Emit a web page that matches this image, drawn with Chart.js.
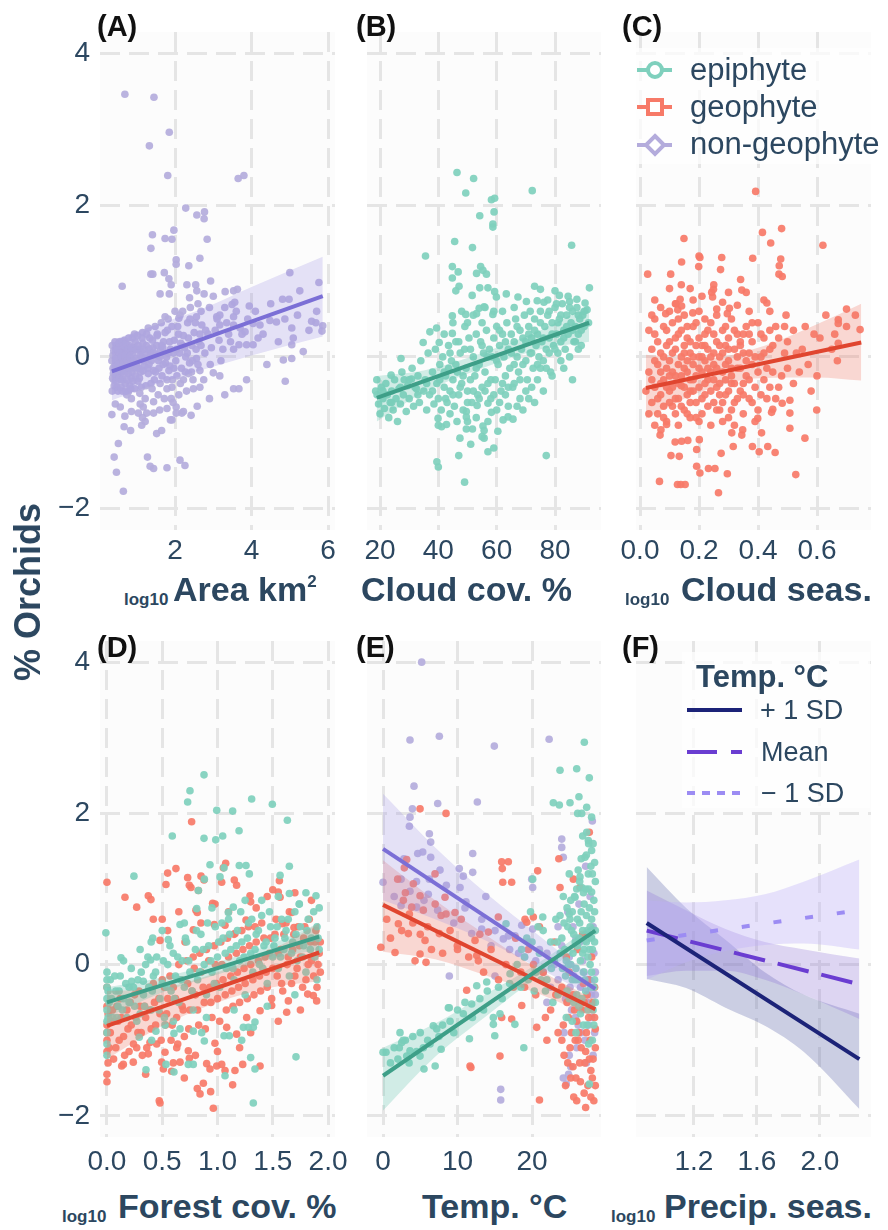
<!DOCTYPE html>
<html>
<head>
<meta charset="utf-8">
<title>% Orchids</title>
<script src="https://cdn.jsdelivr.net/npm/chart.js@4.4.0/dist/chart.umd.min.js"></script>
<style>
  html, body { margin: 0; padding: 0; background: #ffffff; }
  #fig { position: relative; width: 888px; height: 1230px; overflow: hidden;
         font-family: 'Liberation Sans', Arial, Helvetica, sans-serif; color: #2c4760; }
  #plots canvas { position: absolute; }
  .lbl { position: absolute; font-weight: bold; font-size: 29px; line-height: 1; color: #111111; white-space: nowrap; }
  .ttl { position: absolute; font-weight: bold; font-size: 34px; line-height: 1; white-space: nowrap; }
  .ttl sup { font-size: 17px; line-height: 0; vertical-align: 14px; }
  .sub { position: absolute; font-weight: bold; font-size: 17px; line-height: 1; white-space: nowrap; }
  .ylab { position: absolute; left: 28px; top: 592px; font-weight: bold; font-size: 36px; line-height: 1;
          white-space: nowrap; transform: translate(-50%, -50%) rotate(-90deg); }
  .leg { position: absolute; background: rgba(255,255,255,0.72); }
  .legtxt { position: absolute; font-size: 31px; line-height: 1; white-space: nowrap; }
  .legF { position: absolute; font-size: 27px; line-height: 1; white-space: nowrap; }
</style>
</head>
<body>
<div id="fig">
  <div id="plots"></div>

  <div class="ylab">% Orchids</div>

  <div class="lbl" style="left:97px;top:12px">(A)</div>
  <div class="lbl" style="left:356px;top:12px">(B)</div>
  <div class="lbl" style="left:622px;top:12px">(C)</div>
  <div class="lbl" style="left:97px;top:633px">(D)</div>
  <div class="lbl" style="left:356px;top:633px">(E)</div>
  <div class="lbl" style="left:622px;top:633px">(F)</div>

  <div class="sub" style="left:124px;top:591px">log10</div>
  <div class="ttl" style="left:173px;top:572px">Area km<sup>2</sup></div>
  <div class="ttl" style="left:361px;top:572px">Cloud cov. %</div>
  <div class="sub" style="left:625px;top:591px">log10</div>
  <div class="ttl" style="left:681px;top:572px">Cloud seas.</div>

  <div class="sub" style="left:62px;top:1208px">log10</div>
  <div class="ttl" style="left:118px;top:1189px">Forest cov. %</div>
  <div class="ttl" style="left:422px;top:1189px">Temp. °C</div>
  <div class="sub" style="left:611px;top:1208px">log10</div>
  <div class="ttl" style="left:664px;top:1189px">Precip. seas.</div>

  <!-- growth-form legend -->
  <div class="leg" style="left:630px;top:48px;width:257px;height:116px"></div>
  <svg style="position:absolute;left:630px;top:48px" width="60" height="116">
    <line x1="7" y1="22" x2="42" y2="22" stroke="#7fd0bd" stroke-width="4"/>
    <circle cx="25" cy="22" r="7" fill="#ffffff" stroke="#7fd0bd" stroke-width="4"/>
    <line x1="7" y1="59" x2="42" y2="59" stroke="#f77a68" stroke-width="4"/>
    <rect x="18" y="52" width="14" height="14" fill="#ffffff" stroke="#f77a68" stroke-width="4"/>
    <line x1="7" y1="97" x2="42" y2="97" stroke="#b4acdc" stroke-width="4"/>
    <polygon points="25,88 34,97 25,106 16,97" fill="#ffffff" stroke="#b4acdc" stroke-width="4"/>
  </svg>
  <div class="legtxt" style="left:690px;top:54px">epiphyte</div>
  <div class="legtxt" style="left:690px;top:91px">geophyte</div>
  <div class="legtxt" style="left:690px;top:128px">non-geophyte</div>

  <!-- temperature legend -->
  <div class="leg" style="left:682px;top:652px;width:188px;height:156px"></div>
  <div class="ttl" style="left:696px;top:661px;font-size:31px">Temp. °C</div>
  <svg style="position:absolute;left:680px;top:690px" width="70" height="120">
    <line x1="7" y1="20" x2="62" y2="20" stroke="#1c2378" stroke-width="4"/>
    <line x1="7" y1="62" x2="62" y2="62" stroke="#6a3dd1" stroke-width="4" stroke-dasharray="30 14"/>
    <line x1="7" y1="103" x2="62" y2="103" stroke="#9c8cf3" stroke-width="4" stroke-dasharray="8 7"/>
  </svg>
  <div class="legF" style="left:760px;top:697px">+ 1 SD</div>
  <div class="legF" style="left:761px;top:739px">Mean</div>
  <div class="legF" style="left:761px;top:780px">− 1 SD</div>
</div>

<script>
// ---------- axis ticks ----------
const orchidTicks = [-2, 0, 2, 4];
const orchidTickLabels = ['−2', '0', '2', '4'];
const areaTicks = [2, 4, 6];
const areaTickLabels = ['2', '4', '6'];
const cloudCovTicks = [20, 40, 60, 80];
const cloudCovTickLabels = ['20', '40', '60', '80'];
const cloudSeasTicks = [0, 0.2, 0.4, 0.6];
const cloudSeasTickLabels = ['0.0', '0.2', '0.4', '0.6'];
const forestTicks = [0, 0.5, 1, 1.5, 2];
const forestTickLabels = ['0.0', '0.5', '1.0', '1.5', '2.0'];
const tempTicks = [0, 10, 20];
const tempTickLabels = ['0', '10', '20'];
const precipTicks = [1.2, 1.6, 2.0];
const precipTickLabels = ['1.2', '1.6', '2.0'];

// ---------- (A) area, non-geophytes ----------
const areaNonGeo = [
  [0.69,3.46],[1.45,3.42],[1.85,2.96],[1.33,2.78],[1.81,2.39],[3.65,2.35],[3.8,2.39],[2.28,1.96],[2.57,1.87],[2.77,1.91],
  [2.76,1.82],[1.41,1.61],[1.37,1.43],[1.74,1.56],[1.92,1.55],[1.97,1.67],[2.84,1.55],[2.65,1.3],[2.03,1.28],[2.03,1.22],
  [2.36,1.2],[2.93,1.0],[1.37,1.09],[1.42,1.09],[1.72,1.11],[1.84,1.03],[0.62,0.93],[1.9,0.95],[2.31,0.95],[2.54,0.95],
  [1.61,0.83],[1.85,0.83],[2.38,0.78],[2.57,0.87],[2.76,0.83],[3.31,0.86],[3.53,0.87],[3.63,0.89],[5.0,1.11],[5.76,0.98],
  [4.81,0.76],[4.98,0.76],[5.26,0.87],[3.94,0.67],[3.49,0.69],[3.56,0.72],[1.74,0.53],[2.13,0.55],[2.1,0.51],[2.56,0.53],
  [2.68,0.6],[3.17,0.55],[3.53,0.53],[3.09,0.53],[3.17,0.42],[3.53,0.42],[3.7,0.38],[3.83,0.33],[4.04,0.44],[4.22,0.42],
  [4.48,0.48],[4.65,0.46],[4.87,0.5],[5.05,0.38],[5.09,0.25],[5.57,0.47],[5.68,0.45],[5.86,0.41],[5.84,0.34],[5.05,0.16],
  [5.35,0.07],[4.83,-0.04],[5.05,-0.02],[4.88,-0.32],[3.87,-0.3],[3.53,-0.42],[3.67,-0.42],[4.17,0.25],[4.04,0.16],[3.67,0.16],
  [3.87,0.16],[3.53,0.1],[3.0,-0.21],[3.17,-0.25],[2.65,-0.18],[2.43,-0.2],[2.48,-0.42],[2.65,-0.4],[2.22,-0.3],[2.35,-0.22],
  [1.79,-0.42],[1.92,-0.4],[1.44,-0.59],[1.79,-0.68],[2.03,-0.66],[2.18,-0.74],[2.22,-0.72],[2.42,-0.77],[2.03,-0.74],[1.92,-0.83],
  [1.04,-0.74],[1.26,-0.74],[1.44,-0.74],[1.17,-0.66],[1.09,-0.62],[0.69,-0.78],[0.86,-0.72],[0.35,-0.76],[0.44,-0.62],[0.57,-0.66],
  [0.86,-0.55],[0.78,-0.46],[0.67,-0.92],[0.84,-0.97],[1.13,-0.9],[1.22,-0.85],[1.52,-1.01],[1.65,-0.97],[1.88,-0.83],[0.52,-1.14],
  [0.41,-1.32],[0.47,-1.52],[1.28,-1.32],[1.35,-1.44],[1.44,-1.47],[1.79,-1.46],[2.13,-1.36],[2.26,-1.43],[0.65,-1.77],
  [0.38,0.02],[0.42,-0.12],[0.45,0.1],[0.5,-0.25],[0.52,0.05],[0.55,-0.08],[0.58,-0.3],[0.6,0.12],[0.63,-0.18],[0.66,0.0],
  [0.7,-0.35],[0.72,0.08],[0.75,-0.12],[0.78,-0.22],[0.8,0.15],[0.83,-0.05],[0.86,-0.28],[0.9,0.05],[0.93,-0.15],[0.96,0.2],
  [1.0,-0.1],[1.03,-0.32],[1.06,0.1],[1.1,-0.2],[1.13,0.0],[1.16,0.18],[1.2,-0.12],[1.24,-0.38],[1.27,0.05],[1.3,-0.22],
  [1.34,0.25],[1.38,-0.05],[1.42,0.12],[1.46,-0.3],[1.5,0.02],[1.54,0.3],[1.58,-0.15],[1.62,0.08],[1.66,-0.25],[1.7,0.2],
  [1.75,-0.08],[1.8,0.35],[1.84,-0.18],[1.88,0.1],[1.93,-0.3],[1.98,0.22],[2.02,-0.05],[2.07,0.4],[2.12,0.05],[2.17,-0.15],
  [2.22,0.28],[2.28,0.0],[2.33,0.45],[2.38,-0.08],[2.44,0.15],[2.5,0.32],[2.56,-0.02],[2.62,0.2],[2.7,0.42],[2.78,0.05],
  [2.86,0.3],[2.95,0.12],[3.05,0.35],[3.15,0.22],[3.25,0.1],[3.4,0.3],[0.4,-0.3],[0.48,-0.4],[0.55,0.2],[0.62,-0.45],
  [0.68,0.22],[0.74,-0.5],[0.82,-0.38],[0.88,0.25],[0.95,-0.42],[1.02,0.28],[1.08,-0.48],[1.15,0.32],[1.22,-0.55],[1.3,0.38],
  [1.4,-0.42],[1.48,0.4],[1.56,-0.5],[1.64,0.45],[1.72,-0.55],[1.82,0.5],[1.9,-0.55],[2.0,0.6],[2.1,-0.5],[2.2,0.6],
  [2.3,-0.45],[2.4,0.65],[2.6,0.7],[2.75,-0.3],[2.9,0.65],[3.0,0.8],[3.3,0.65],[0.36,-0.45],[0.39,-0.22],[0.44,-0.05],
  [0.47,0.15],[0.53,-0.15],[0.57,-0.02],[0.61,-0.2],[0.64,0.08],[0.67,-0.1],[0.71,-0.02],[0.77,0.02],[0.79,-0.15],[0.85,0.08],
  [0.89,-0.1],[0.92,0.12],[0.98,-0.02],[1.05,-0.15],[1.11,0.08],[1.18,-0.05],[1.25,0.15],[1.32,-0.1],[1.36,0.05],[1.44,-0.18],
  [1.52,0.15],[1.6,0.0],[1.68,0.12],[1.78,0.0],[1.86,0.2],[1.96,0.05],[2.05,-0.25],[2.15,0.18],[2.25,0.12],[2.35,0.25],
  [2.45,-0.05],[2.55,0.1],[2.65,0.3],
  [0.35,-0.05],[0.36,0.15],[0.37,-0.28],[0.38,-0.15],[0.4,0.08],[0.41,-0.38],[0.43,0.2],[0.44,-0.22],[0.46,-0.02],[0.47,-0.32],
  [0.49,0.1],[0.5,-0.1],[0.51,-0.45],[0.53,0.18],[0.54,-0.28],[0.56,0.05],[0.57,-0.18],[0.59,-0.4],[0.6,0.0],[0.62,0.2],
  [0.63,-0.3],[0.65,-0.08],[0.66,0.15],[0.68,-0.22],[0.69,0.02],[0.71,-0.45],[0.72,0.18],[0.74,-0.05],[0.76,-0.3],[0.77,0.1],
  [0.79,0.25],[0.81,-0.15],[0.82,0.0],[0.84,-0.42],[0.86,0.12],[0.87,-0.2],[0.9,-0.32],[0.92,-0.05],[0.94,0.3],[0.97,-0.25],
  [0.99,0.1],[1.01,-0.15],[1.04,0.15],[1.07,-0.28],[1.09,0.02],[1.12,-0.4],[1.14,0.25],[1.17,-0.18],[1.19,0.1],[1.23,-0.02],
  [1.26,0.3],[1.29,-0.15],[1.33,0.1],[1.37,-0.35],[1.41,0.22],[1.45,0.05],[1.49,-0.2],[1.53,0.28],[1.57,-0.05],[1.61,-0.35],
  [1.65,0.15],[1.69,-0.1],[1.74,0.32],[1.79,-0.3],[1.83,0.05],[1.87,-0.12],[1.92,0.4],[1.97,-0.15],[2.04,0.1],[2.09,0.3],
  [2.14,-0.35],[2.2,0.15],[2.27,-0.2],[2.32,0.05],[2.39,0.5],[2.47,-0.3],[2.53,0.45],[2.6,-0.1],[2.68,0.15],[2.8,0.35],
  [2.92,-0.1],[3.1,0.5],[3.2,-0.05],[3.35,0.45],[3.45,0.2],[3.6,0.6],[3.75,0.3],[3.9,0.5],[4.1,0.6],[4.3,0.3],
  [4.5,0.7],[4.7,0.2],[5.2,0.55],[5.5,0.35],[5.7,0.6],[4.4,-0.1],[3.3,-0.5],[2.9,-0.55],[2.58,-0.65],[1.95,-0.6],
  [1.6,-0.7],[1.15,-0.8]
];
const areaFitX = [0.35, 5.86];
const areaFitY = [-0.19, 0.80];
const areaBandX = [0.35, 1.5, 2.65, 4.0, 5.86];
const areaBandHi = [0.22, 0.42, 0.62, 0.92, 1.32];
const areaBandLo = [-0.57, -0.36, -0.18, 0.02, 0.27];

// ---------- (B) cloud cover, epiphytes ----------
const cloudCovEpi = [
  [46.4,2.43],[52.1,2.35],[49.4,2.16],[72.2,2.19],[58.2,2.07],[59.3,2.09],[59.1,1.91],[54.2,1.86],[58.7,1.75],[58.7,1.71],
  [45.6,1.52],[51.7,1.44],[35.6,1.33],[85.7,1.47],[44.8,1.19],[46.8,1.12],[44.8,1.04],[47.1,0.93],[46.0,0.87],[54.5,1.19],
  [55.3,1.14],[53.1,1.1],[56.5,1.09],[54.2,0.91],[57.0,0.91],[59.3,0.86],[51.6,0.81],[54.0,0.64],[53.1,0.57],[55.7,0.66],
  [58.7,0.56],[59.9,0.79],[63.3,0.83],[67.3,0.79],[70.2,0.73],[73.0,0.93],[75.0,0.89],[73.9,0.74],[76.2,0.72],[80.0,0.87],
  [81.5,0.81],[85.0,0.73],[87.5,0.76],[90.3,0.71],[91.8,0.91],[49.4,0.56],[44.8,0.54],[49.1,0.4],[44.8,0.31],[37.1,0.33],
  [39.4,0.38],[34.8,0.19],[40.3,0.19],[27.2,-0.02],[18.9,-0.3],[23.8,-0.24],[28.3,-0.3],[30.8,-0.29],[32.5,-0.42],[39.9,-0.81],
  [42.8,-0.89],[41.1,-0.92],[46.4,-0.85],[49.6,-0.95],[51.7,-0.95],[55.3,-0.91],[55.7,-0.97],[60.4,-0.98],[47.4,-1.07],[51.1,-1.15],
  [55.7,-1.07],[62.2,-0.83],[63.9,-0.79],[65.6,-0.82],[58.2,-0.73],[49.6,-0.72],[49.6,-0.79],[53.3,-0.64],[57.0,-0.61],[39.5,-1.38],
  [40.0,-1.45],[47.0,-1.3],[49.0,-1.65],[55.0,-1.05],[57.0,-1.25],[77.0,-1.3],[59.0,-1.2],
  [18.5,-0.45],[19.5,-0.62],[20,-0.75],[20.5,-0.4],[21,-0.55],[21.5,-0.68],[22,-0.35],[22.5,-0.5],[23,-0.8],[23.5,-0.6],
  [24,-0.45],[24.5,-0.7],[25,-0.3],[25.5,-0.55],[26,-0.85],[26.5,-0.42],[27,-0.62],[27.5,-0.2],[28,-0.5],[29,-0.72],
  [29.5,-0.38],[30,-0.55],[31,-0.15],[31.5,-0.65],[32,-0.4],[33,-0.25],[33.5,-0.6],[34,-0.05],[35,-0.45],[35.5,-0.3],
  [36,-0.7],[36.5,0.05],[37,-0.5],[38,-0.2],[38.5,-0.62],[39,0.1],[39.5,-0.35],[40,-0.55],[40.5,-0.1],[41,-0.7],
  [41.5,0.0],[42,-0.4],[42.5,-0.25],[43,-0.6],[43.5,0.15],[44,-0.45],[44.5,-0.05],[45,-0.3],[45.5,-0.65],[46,0.2],
  [46.5,-0.2],[47,-0.5],[47.5,0.05],[48,-0.35],[48.5,-0.7],[49,0.1],[49.5,-0.15],[50,-0.45],[50.5,0.25],[51,-0.3],
  [51.5,-0.6],[52,0.0],[52.5,-0.25],[53,0.3],[53.5,-0.5],[54,-0.1],[54.5,0.2],[55,-0.4],[55.5,0.05],[56,-0.2],
  [56.5,0.35],[57,-0.35],[57.5,0.1],[58,-0.55],[58.5,0.0],[59,0.25],[59.5,-0.3],[60,0.4],[60.5,-0.1],[61,0.15],
  [61.5,-0.45],[62,0.3],[62.5,0.0],[63,-0.25],[63.5,0.45],[64,0.1],[64.5,-0.15],[65,0.3],[65.5,-0.4],[66,0.2],
  [66.5,0.5],[67,0.0],[67.5,-0.2],[68,0.35],[68.5,0.1],[69,-0.1],[69.5,0.55],[70,0.2],[70.5,-0.3],[71,0.4],
  [71.5,0.05],[72,0.25],[72.5,-0.15],[73,0.5],[73.5,0.15],[74,0.3],[74.5,0.0],[75,0.6],[75.5,0.2],[76,-0.05],
  [76.5,0.4],[77,0.1],[77.5,0.55],[78,0.25],[78.5,-0.2],[79,0.45],[79.5,0.15],[80,0.65],[80.5,0.3],[81,0.05],
  [81.5,0.5],[82,0.2],[82.5,0.7],[83,0.35],[83.5,0.1],[84,0.55],[84.5,0.3],[85,0.0],[85.5,0.45],[86,0.6],
  [86.5,0.2],[87,0.4],[87.5,0.65],[88,0.3],[88.5,0.5],[89,0.15],[89.5,0.55],[90,0.4],[91,0.62],[61,-0.6],
  [63,-0.5],[66,-0.35],[68,-0.55],[70,-0.45],[72,-0.4],[74,-0.3],[76,-0.45],[79,-0.25],[83,-0.15],[86,-0.3],
  [45,0.45],[42,0.3],[48,0.6],[52,0.55],[56,0.65],[50,-0.85],[44,-0.75],[53,-0.8],[57,-0.85],[60,-0.7],
  [64,-0.65],[69,-0.7],[73,-0.6],[40,-0.9],
  [38,-0.45],[40.5,-0.3],[42.5,-0.55],[43.5,-0.15],[45,-0.5],[46,-0.1],[47.5,-0.4],[48.5,-0.25],[50,-0.6],[51,0.1],
  [52,-0.45],[53,-0.15],[54,-0.55],[55,0.15],[56,-0.45],[57,0.0],[58,-0.3],[59,-0.5],[60,-0.05],[61,0.35],
  [62,-0.35],[63,0.2],[64,-0.4],[65,0.05],[66,-0.1],[67,0.4],[68,-0.3],[69,0.25],[70,-0.05],[71,0.3],
  [72,0.05],[73,0.35],[74,-0.1],[75,0.45],[76,0.25],[77,-0.15],[78,0.6],[79,0.3],[80,0.1],[81,0.45],
  [82,0.55],[83,0.25],[84,0.4],[85,0.65],[86,0.35],[87,0.2],[88,0.55],[89,0.35],[90,0.6],[91.5,0.45],
  [84.5,0.8],[80.5,0.7],[77.5,0.75],[71.5,0.6],[66,0.65],[62,0.6],[59,0.6],[55,0.45],[50,0.45],[47,0.2],
  [44,0.05],[42,-0.2],[36,-0.35],[33,-0.5],[30,-0.3],[27,-0.4],[24,-0.6],[21,-0.45],[19,-0.5],[67,-0.65],
  [71,-0.55],[75,-0.15],[78,0.05],[82,-0.05],[88,0.1]
];
const cloudCovFitX = [18.9, 91.7];
const cloudCovFitY = [-0.54, 0.45];
const cloudCovBandX = [18.9, 35, 55, 75, 91.7];
const cloudCovBandHi = [-0.25, -0.18, 0.05, 0.35, 0.68];
const cloudCovBandLo = [-0.85, -0.47, -0.15, 0.1, 0.2];

// ---------- (C) cloud seasonality, geophytes ----------
const cloudSeasGeo = [
  [0.392,2.18],[0.415,1.64],[0.48,1.69],[0.443,1.5],[0.62,1.47],[0.149,1.56],[0.026,1.09],[0.104,1.09],[0.141,1.25],[0.2,1.33],
  [0.203,1.31],[0.199,1.19],[0.277,1.31],[0.273,1.15],[0.382,1.3],[0.477,1.29],[0.472,1.2],[0.471,1.09],[0.482,1.06],[0.341,1.02],
  [0.345,0.88],[0.43,0.71],[0.243,0.85],[0.249,0.89],[0.246,0.79],[0.136,0.76],[0.122,0.7],[0.141,0.67],[0.128,0.62],[0.179,0.58],
  [0.087,0.57],[0.26,0.63],[0.303,0.64],[0.296,0.57],[0.495,0.55],[0.70,0.63],[0.672,0.49],[0.672,0.44],[0.672,0.18],[0.669,-0.05],
  [0.746,0.36],[0.599,-0.7],[0.559,-1.07],[0.528,-1.55],[0.508,-0.57],[0.508,-0.74],[0.508,-0.94],[0.482,-0.61],[0.45,-0.69],[0.446,-0.73],
  [0.433,-1.18],[0.458,-1.26],[0.404,-1.25],[0.381,-1.18],[0.412,-1.0],[0.399,-0.81],[0.348,-0.96],[0.345,-1.03],[0.311,-1.0],[0.316,-1.18],
  [0.275,-1.27],[0.192,-1.22],[0.201,-1.09],[0.192,-1.44],[0.203,-1.53],[0.232,-1.47],[0.254,-1.47],[0.296,-1.54],[0.266,-1.79],[0.138,-1.68],
  [0.153,-1.68],[0.127,-1.68],[0.066,-1.64],[0.105,-1.3],[0.133,-1.31],[0.119,-1.12],[0.141,-1.11],[0.162,-1.1],[0.068,-1.03],[0.071,-0.96],
  [0.09,-0.89],[0.5,-0.15],[0.52,-0.35],[0.54,-0.2],[0.47,-0.4],[0.49,0.05],[0.55,0.1],[0.58,-0.45],[0.61,0.25],[0.65,0.1],
  [0.03,-0.2],[0.04,-0.6],[0.04,0.1],[0.05,-0.4],[0.05,0.3],[0.06,-0.75],[0.06,-0.1],[0.07,0.05],[0.07,-0.5],[0.08,-0.3],
  [0.08,0.4],[0.09,-0.85],[0.09,-0.15],[0.1,0.2],[0.1,-0.45],[0.1,-0.05],[0.11,-0.65],[0.11,0.45],[0.12,-0.25],[0.12,0.1],
  [0.13,-0.55],[0.13,0.3],[0.13,-0.9],[0.14,0.0],[0.14,-0.38],[0.15,0.55],[0.15,-0.7],[0.15,-0.15],[0.16,0.25],[0.16,-0.5],
  [0.17,0.05],[0.17,-0.3],[0.17,-0.8],[0.18,0.4],[0.18,-0.1],[0.19,-0.6],[0.19,0.15],[0.2,-0.4],[0.2,0.0],[0.2,0.6],
  [0.21,-0.2],[0.21,-0.75],[0.22,0.3],[0.22,-0.5],[0.23,0.1],[0.23,-0.3],[0.24,-0.9],[0.24,0.45],[0.25,-0.1],[0.25,-0.6],
  [0.26,0.2],[0.26,-0.4],[0.27,0.0],[0.27,-0.7],[0.28,0.35],[0.28,-0.2],[0.29,-0.5],[0.29,0.15],[0.3,-0.05],[0.3,-0.8],
  [0.31,0.5],[0.31,-0.35],[0.32,0.1],[0.32,-0.6],[0.33,-0.15],[0.33,0.3],[0.34,-0.45],[0.35,0.05],[0.35,-0.75],[0.36,0.4],
  [0.36,-0.25],[0.37,-0.55],[0.38,0.2],[0.38,-0.1],[0.39,-0.4],[0.4,0.45],[0.4,-0.7],[0.41,0.0],[0.42,-0.3],[0.42,0.25],
  [0.43,-0.55],[0.44,0.1],[0.45,-0.2],[0.46,0.4],[0.07,-0.35],[0.09,0.15],[0.11,-0.2],[0.12,-0.75],[0.14,0.35],[0.16,-0.05],
  [0.18,-0.45],[0.19,-0.25],[0.21,0.15],[0.22,-0.05],[0.23,-0.65],[0.24,-0.2],[0.26,0.55],[0.27,-0.5],[0.29,-0.3],[0.3,0.25],
  [0.32,-0.9],[0.34,0.2],[0.37,0.05],[0.39,-0.85],[0.05,-0.9],[0.08,-0.65],[0.1,0.6],[0.13,-0.35],[0.15,0.15],[0.17,-0.6],
  [0.2,-0.85],[0.22,0.5],[0.25,0.05],[0.28,-0.85],[0.31,-0.15],[0.35,-0.35],[0.05,0.5],[0.07,0.65],[0.12,0.7],[0.18,0.75],
  [0.21,0.8],[0.28,0.72],[0.33,0.68],[0.37,0.6],
  [0.04,-0.3],[0.05,-0.05],[0.06,0.2],[0.06,-0.55],[0.07,-0.2],[0.08,0.0],[0.08,-0.8],[0.09,-0.4],[0.09,0.35],[0.1,-0.25],
  [0.1,-0.6],[0.11,0.05],[0.11,-0.4],[0.12,-0.55],[0.12,0.25],[0.13,-0.1],[0.13,0.5],[0.14,-0.25],[0.14,-0.65],[0.15,0.05],
  [0.15,-0.4],[0.16,0.4],[0.16,-0.2],[0.16,-0.75],[0.17,0.2],[0.17,-0.45],[0.18,0.0],[0.18,-0.3],[0.19,0.45],[0.19,-0.8],
  [0.2,-0.15],[0.2,0.25],[0.21,-0.55],[0.21,0.0],[0.22,-0.35],[0.22,0.15],[0.23,-0.15],[0.23,0.35],[0.24,-0.45],[0.24,0.0],
  [0.25,0.3],[0.25,-0.3],[0.26,-0.15],[0.26,-0.7],[0.27,0.15],[0.27,-0.35],[0.28,0.05],[0.28,-0.6],[0.29,-0.1],[0.29,0.4],
  [0.3,-0.45],[0.3,0.1],[0.31,-0.25],[0.31,-0.7],[0.32,0.35],[0.32,-0.35],[0.33,0.0],[0.33,-0.55],[0.34,0.15],[0.34,-0.15],
  [0.35,0.3],[0.35,-0.5],[0.36,-0.05],[0.37,0.3],[0.37,-0.3],[0.38,-0.6],[0.38,0.45],[0.39,0.0],[0.4,-0.2],[0.41,0.3],
  [0.41,-0.5],[0.42,0.05],[0.43,-0.15],[0.44,0.35],[0.44,-0.4],[0.45,0.15],[0.46,-0.55],[0.47,0.25],[0.48,-0.25],[0.49,0.4],
  [0.5,0.2],[0.52,0.35],[0.53,0.05],[0.56,0.4],[0.57,-0.1],[0.59,0.3],[0.6,-0.25],[0.63,0.55],[0.66,0.3],[0.7,0.4],
  [0.73,0.55],[0.02,-0.45],[0.03,0.35],[0.03,-0.75],[0.04,0.55],[0.1,0.9],[0.17,0.9],[0.25,0.95],[0.3,0.85],[0.36,0.85],
  [0.42,0.75],[0.44,0.6],[0.14,0.95],[0.05,0.75]
];
const cloudSeasFitX = [0.02, 0.75];
const cloudSeasFitY = [-0.41, 0.19];
const cloudSeasBandX = [0.02, 0.2, 0.4, 0.6, 0.75];
const cloudSeasBandHi = [0.03, -0.03, 0.12, 0.43, 0.7];
const cloudSeasBandLo = [-0.81, -0.47, -0.28, -0.27, -0.31];

// ---------- (D) forest cover ----------
const forestEpi = [
  [0.878,2.51],[0.751,2.30],[0.73,2.15],[0.993,2.04],[1.137,2.03],[1.309,2.19],[1.496,2.12],[1.632,1.91],[0.591,1.7],[0.878,1.67],
  [0.984,1.65],[1.047,1.7],[1.195,1.77],[0.932,1.32],[1.059,1.28],[1.197,1.31],[1.258,1.31],[1.65,1.3],[0.244,1.17],[0.881,1.13],
  [0.827,0.98],[1.023,1.16],[1.288,1.2],[1.566,1.18],[1.65,0.94],[1.891,0.91],[1.74,0.8],[1.4,0.85],[1.143,0.76],[1.098,0.69],
  [0.812,0.74],[0.661,0.53],[-0.01,0.42],[0.414,0.35],[0.555,0.33],[0.127,0.09],[0.395,0.06],[0.223,-0.22],[0.329,-0.22],[1.324,-1.83],
  [1.71,-1.22],[1.107,-0.94],[1.219,-1.0],[1.059,-0.94],[1.234,-0.83],[1.279,-0.83],[1.324,-0.83],[1.339,-0.76],[1.068,-1.47],[1.339,-1.38],
  [1.3,-1.23],[0.736,-1.32],[0.781,-1.32],[0.353,-1.39],[0.606,-1.42],[0.534,-1.32],[0.881,-1.01],[0.857,-0.9],[0.781,-0.88],[0.443,-0.88],
  [0.404,-1.0],[0.292,-0.96],[0.525,-0.8],[0.661,-0.85],[0.606,-0.91],
  [0,-0.1],[0,-0.3],[0,-0.45],[0,-0.6],[0,-0.75],[0,-0.9],[0,-1.05],[0,-1.2],[0.02,-0.5],[0.03,-0.2],
  [0.05,-0.7],[0.08,-0.35],[0.1,-0.55],[0.12,-0.15],[0.15,-0.45],[0.18,-0.7],[0.2,-0.3],[0.22,-0.05],[0.25,-0.55],[0.28,-0.2],
  [0.3,-0.65],[0.33,-0.4],[0.35,0.0],[0.38,-0.3],[0.4,-0.6],[0.42,-0.15],[0.45,0.1],[0.48,-0.45],[0.5,-0.25],[0.52,-0.7],
  [0.55,0.0],[0.58,-0.35],[0.6,0.15],[0.62,-0.15],[0.65,-0.5],[0.68,0.05],[0.7,-0.3],[0.72,0.3],[0.75,-0.1],[0.78,-0.6],
  [0.8,0.2],[0.82,-0.2],[0.85,0.4],[0.88,0.0],[0.9,-0.4],[0.92,0.25],[0.95,-0.1],[0.98,0.5],[1.0,0.1],[1.02,-0.3],
  [1.05,0.35],[1.08,-0.05],[1.1,0.6],[1.12,0.2],[1.15,-0.2],[1.18,0.45],[1.2,0.05],[1.22,0.3],[1.25,-0.4],[1.28,0.55],
  [1.3,0.15],[1.32,-0.1],[1.35,0.4],[1.38,0.0],[1.4,0.65],[1.42,0.25],[1.45,-0.25],[1.48,0.5],[1.5,0.1],[1.52,0.35],
  [1.55,-0.05],[1.58,0.6],[1.6,0.2],[1.62,0.45],[1.65,-0.15],[1.68,0.3],[1.7,0.7],[1.72,0.05],[1.75,0.5],[1.78,0.25],
  [1.8,-0.1],[1.82,0.6],[1.85,0.35],[1.88,0.1],[1.9,0.5],[1.92,0.2],[1.92,0.75],[1.9,-0.2],[0.6,-0.75],[0.9,-0.7],
  [1.15,-0.6],[1.45,-0.55],[1.7,-0.4],[0.4,0.3],[0.7,0.55],[0.95,0.75],[1.25,0.85],[1.55,0.9],[1.8,0.95],[0.15,0.05],
  [0.3,0.2],[0.5,0.45],
  [0.01,-0.35],[0.0,-0.2],[0.01,-0.7],[0.04,-0.45],[0.07,-0.15],[0.09,-0.7],[0.11,-0.35],[0.14,-0.6],[0.17,-0.25],[0.2,-0.5],
  [0.24,-0.3],[0.27,-0.75],[0.31,-0.1],[0.34,-0.55],[0.37,0.1],[0.41,-0.35],[0.44,-0.1],[0.47,-0.6],[0.51,0.05],[0.54,-0.3],
  [0.57,0.25],[0.61,-0.45],[0.64,0.1],[0.67,-0.2],[0.71,0.35],[0.74,0.05],[0.77,-0.35],[0.81,0.45],[0.84,-0.1],[0.87,0.2],
  [0.91,0.55],[0.94,0.05],[0.97,-0.25],[1.01,0.3],[1.04,0.55],[1.07,0.15],[1.11,0.4],[1.14,-0.05],[1.17,0.25],[1.21,0.7],
  [1.24,0.1],[1.27,0.35],[1.31,0.6],[1.34,0.2],[1.37,0.45],[1.41,-0.05],[1.44,0.3],[1.47,0.7],[1.51,0.25],[1.54,0.5],
  [1.57,0.1],[1.61,0.35],[1.64,0.6],[1.67,0.15],[1.71,0.4],[1.74,0.8],[1.77,0.1],[1.81,0.45],[1.84,0.2],[1.87,0.7],
  [1.91,0.35]
];
const forestGeo = [
  [0,1.09],[0.766,1.89],[0.549,1.21],[0.624,1.27],[0.73,1.15],[0.76,1.02],[0.827,0.98],[0.851,1.17],[0.878,1.12],[0.534,1.06],
  [0.745,1.05],[1.074,1.34],[1.053,1.28],[1.152,1.12],[1.173,1.05],[1.038,1.09],[0.163,0.89],[0.269,0.76],[0.374,0.91],[0.398,0.86],
  [0.419,0.6],[0.48,0.32],[0.549,0.45],[0.706,0.3],[0.781,0.46],[0.805,0.72],[0.956,0.81],[0.977,0.8],[0.817,0.69],[0.971,0.53],
  [1.068,0.52],[1.158,0.41],[1.258,0.59],[1.294,0.91],[1.3,0.83],[1.5,0.99],[1.56,1.11],[1.55,0.96],[1.566,0.89],[1.671,0.69],
  [1.692,0.49],[1.587,0.54],[0.473,-1.8],[0.48,-1.83],[0.962,-1.9],[0.817,-1.64],[0.842,-1.71],[0.938,-1.68],[0.872,-1.57],[1.137,-1.59],
  [0.133,-1.34],[0.148,-1.32],[0.238,-1.29],[0.495,-1.29],[0.51,-1.38],[0.585,-1.41],[0.661,-1.29],[0.745,-1.24],[0.902,-1.31],[0.932,-1.38],
  [0.993,-1.34],[1.038,-1.32],[1.068,-1.4],[1.158,-1.4],[1.228,-1.32],[1.385,-1.34],[0,-0.3],[0,-0.55],[0,-0.8],[0,-1.0],
  [0,-1.15],[0.01,-1.3],[0,-1.45],[0,-1.55],[0.389,-1.03],[0.269,-1.1],[0.374,-1.18],[0.525,-1.16],[0.631,-1.1],[0.736,-1.14],
  [0.977,-1.04],[1.173,-0.92],[1.083,-0.83],[1.264,-0.7],[1.385,-0.61],[1.49,-0.54],[1.626,-0.63],[1.641,-0.48],[1.867,-0.41],[1.897,-0.48],
  [1.816,-0.39],
  [0.03,-0.9],[0.05,-0.6],[0.08,-1.1],[0.1,-0.75],[0.12,-0.45],[0.15,-0.95],[0.18,-0.6],[0.2,-1.15],[0.22,-0.8],[0.25,-0.4],
  [0.28,-0.9],[0.3,-0.55],[0.32,-1.2],[0.35,-0.7],[0.38,-0.3],[0.4,-0.85],[0.43,-0.5],[0.45,-1.05],[0.48,-0.65],[0.5,-0.2],
  [0.53,-0.8],[0.55,-0.45],[0.58,-1.0],[0.6,-0.3],[0.63,-0.7],[0.65,0.0],[0.68,-0.55],[0.7,-0.95],[0.73,-0.25],[0.75,-0.6],
  [0.78,0.1],[0.8,-0.4],[0.83,-0.8],[0.85,-0.1],[0.88,-0.5],[0.9,0.2],[0.93,-0.3],[0.95,-0.7],[0.98,0.0],[1.0,-0.45],
  [1.03,0.3],[1.05,-0.2],[1.08,-0.6],[1.1,0.1],[1.13,-0.35],[1.15,0.4],[1.18,-0.1],[1.2,-0.5],[1.23,0.2],[1.25,-0.25],
  [1.28,0.5],[1.3,0.0],[1.33,-0.4],[1.35,0.3],[1.38,-0.15],[1.4,0.55],[1.43,0.1],[1.45,-0.3],[1.48,0.35],[1.5,-0.05],
  [1.53,0.6],[1.55,0.15],[1.58,-0.25],[1.6,0.4],[1.63,0.0],[1.65,0.7],[1.68,0.2],[1.7,-0.15],[1.73,0.5],[1.75,0.1],
  [1.78,0.35],[1.8,-0.2],[1.83,0.6],[1.85,0.05],[1.88,0.3],[1.9,-0.3],[1.92,0.15],[1.93,-0.1],[0.5,0.6],[0.65,0.7],
  [0.85,0.55],[1.1,0.7],[1.35,0.75],[1.45,0.9],[1.7,0.95],[1.85,0.85],[0.35,-1.45],[0.6,-1.3],[0.7,-1.5],[0.8,-1.2],
  [1.0,-1.15],[1.2,-1.1],[1.3,-0.9],[1.55,-0.75],[1.75,-0.6],
  [0.01,-0.65],[0.0,-0.9],[0.02,-1.1],[0.04,-0.75],[0.06,-1.25],[0.09,-0.55],[0.11,-1.0],[0.13,-0.7],[0.16,-1.2],[0.19,-0.85],
  [0.21,-0.5],[0.24,-1.05],[0.26,-0.7],[0.29,-0.35],[0.31,-0.9],[0.34,-0.55],[0.36,-1.1],[0.39,-0.6],[0.42,-0.25],[0.44,-0.8],
  [0.47,-0.45],[0.49,-1.0],[0.52,-0.3],[0.54,-0.65],[0.57,-0.15],[0.59,-0.8],[0.62,-0.45],[0.64,-1.05],[0.67,-0.2],[0.69,-0.6],
  [0.72,0.05],[0.74,-0.85],[0.77,-0.35],[0.79,-0.05],[0.82,-0.6],[0.84,0.15],[0.87,-0.3],[0.89,-0.85],[0.92,0.05],[0.94,-0.5],
  [0.97,0.25],[0.99,-0.25],[1.02,-0.75],[1.04,0.0],[1.07,-0.4],[1.09,0.35],[1.12,-0.15],[1.14,-0.55],[1.17,0.15],[1.19,-0.3],
  [1.22,0.45],[1.24,-0.05],[1.27,-0.45],[1.29,0.25],[1.32,-0.2],[1.34,0.5],[1.37,0.05],[1.39,-0.35],[1.42,0.35],[1.44,-0.1],
  [1.47,0.15],[1.49,-0.45],[1.52,0.4],[1.54,-0.15],[1.57,0.2],[1.59,-0.35],[1.62,0.55],[1.64,0.1],[1.67,-0.25],[1.69,0.4],
  [1.72,-0.05],[1.74,0.25],[1.77,-0.3],[1.79,0.5],[1.82,0.0],[1.84,0.3],[1.87,-0.15],[1.89,0.45],[1.91,0.0],[1.93,0.3]
];
const forestFitX = [0, 1.92];
const forestEpiFitY = [-0.50, 0.37];
const forestGeoFitY = [-0.81, 0.16];
const forestBandX = [0, 0.5, 1.0, 1.5, 1.92];
const forestEpiBandHi = [-0.3, -0.17, 0.03, 0.28, 0.55];
const forestEpiBandLo = [-0.7, -0.37, -0.13, 0.08, 0.2];
const forestGeoBandHi = [-0.35, -0.31, -0.1, 0.2, 0.55];
const forestGeoBandLo = [-1.25, -0.81, -0.5, -0.3, -0.22];

// ---------- (E) temperature ----------
const tempEpi = [
  [27.02,2.94],[23.76,2.57],[26.0,2.59],[27.69,2.47],[22.86,2.14],[23.67,2.11],[25.1,2.14],[26.3,2.22],[27.34,2.08],[26.13,2.0],
  [26.67,2.0],[28.0,1.95],[27.34,1.75],[27.56,1.64],[28.0,1.51],[27.11,1.42],[27.56,1.2],[26.44,1.16],[26.67,1.02],[25.77,0.89],
  [28.0,0.96],[25.0,0.67],[23.76,0.65],[21.44,0.63],[20.09,1.13],[16.51,0.54],[0,-1.16],[2.28,-0.9],[2.51,-1.03],[2.19,-1.1],
  [3.62,-1.14],[3.18,-1.21],[4.97,-1.21],[5.41,-1.1],[6.31,-1.05],[7.21,-0.85],[6.75,-0.81],[8.77,-0.57],[10.78,-0.65],[11.9,-0.52],
  [12.58,-0.28],[13.92,-0.23],[14.81,-0.7],[14.81,-0.79],[15.7,-0.65],[17.05,-0.12],[0.4,-1.16],[2.7,-1.0],[5.5,-1.38],[7.0,-1.34],
  [7.8,-1.12],[8.9,-0.57],[11.6,-0.98],[15,-0.94],[17.7,-0.79],[18.9,-1.1],[27.7,-1.58],
  [1,-1.3],[1.5,-1.1],[2,-1.25],[3,-1.0],[3.5,-1.3],[4,-0.95],[4.5,-1.15],[5,-0.9],[6,-1.0],[7.5,-0.95],
  [8,-0.8],[9,-0.75],[9.5,-0.9],[10,-0.6],[11,-0.5],[12,-0.7],[13,-0.45],[13.5,-0.6],[14,-0.35],[15.5,-0.3],
  [16,-0.45],[17,-0.25],[18,0.0],[18.5,-0.3],[19,0.1],[19.5,-0.2],[20,0.3],[20.5,-0.1],[21,0.15],[21.5,0.45],
  [22,-0.2],[22.5,0.3],[23,0.05],[23.2,0.6],[23.5,-0.4],[24,0.35],[24.2,0.9],[24.5,-0.15],[24.8,0.5],[25,1.2],
  [25.2,0.0],[25.4,0.7],[25.6,-0.5],[25.8,0.3],[26,1.0],[26.2,-0.2],[26.4,0.55],[26.6,1.4],[26.8,0.15],[27,0.8],
  [27.2,-0.35],[27.4,0.45],[27.6,1.0],[27.8,0.0],[28,0.6],[28.2,-0.6],[28.4,0.3],[28.5,1.1],[28.3,0.85],[27.9,1.3],
  [26.9,-0.8],[25.9,-0.9],[24.6,-0.7],[28.1,-1.0],[27.3,0.3],[26.1,0.25],[25.3,0.45],[24.1,-0.05],[23.8,0.15],[22.8,-0.5],
  [21.8,-0.35],[20.8,0.5],[19.8,0.7],[28.4,-0.2],[27.7,0.2],[26.5,0.05],
  [24.4,0.2],[24.7,-0.35],[25.1,0.6],[25.4,-0.2],[25.7,0.9],[26.0,-0.4],[26.3,0.35],[26.6,0.7],[26.9,-0.1],[27.2,1.0],
  [27.5,-0.6],[27.8,0.5],[28.1,0.2],[28.4,0.7],[28.5,-0.5],[28.2,1.6],[27.9,-0.3],[27.6,1.6],[27.3,0.65],[27.0,0.2],
  [26.7,-0.45],[26.4,1.1],[26.1,0.6],[25.8,-0.2],[25.5,0.15],[24.9,0.0],[28.3,-0.8],[28.0,-0.1],[27.4,-0.8],[26.8,1.7],
  [24.3,0.55],[24.6,0.05],[25.0,-0.45],[25.2,0.85],[25.6,0.4],[25.9,-0.05],[26.2,1.25],[26.5,-0.65],[26.8,0.45],[27.1,-0.2],
  [27.3,1.45],[27.5,0.1],[27.7,0.75],[27.9,-0.55],[28.1,1.2],[28.3,-0.3],[28.5,0.45],[28.4,1.35],[28.0,0.35],[27.6,-1.05],
  [26.9,0.95],[26.3,-0.55],[25.4,-0.75],[24.7,0.75],[23.4,0.3],[22.6,-0.05],[21.2,-0.2],[20.3,-0.35],[19.3,0.35],[18.6,0.2]
];
const tempGeo = [
  [4.97,2.06],[8.46,2.0],[3.18,1.39],[2.86,1.28],[1.97,1.13],[4.07,1.07],[2.73,0.85],[3.85,0.76],[4.97,0.91],[5.41,0.72],
  [3.54,0.67],[2.06,0.54],[-0.3,0.23],[1.61,0.16],[3.4,0.41],[4.3,0.05],[5.77,0.03],[4.97,0.14],[5.64,0.32],[6.98,1.2],
  [8.32,0.89],[8.46,0.67],[7.56,0.41],[9.66,0.69],[9.97,0.25],[12.35,0.32],[12.58,0.12],[14.14,0.43],[15.48,0.63],[15.93,1.36],
  [16.82,1.36],[16.01,1.27],[16.07,1.09],[17.27,1.09],[20.76,1.24],[19.06,0.6],[19.29,0.56],[20.18,0.63],[11.23,-0.34],[11.68,-1.34],
  [15.93,-0.7],[15.7,-1.21],[17.27,-0.72],[20.63,-0.83],[18.62,-0.54],[11.8,-1.36],[21.0,-1.79],[27.2,-1.89],[23.6,1.4],[23.76,1.02],
  [25.55,1.13],[26.44,1.02],[27.69,1.75],
  [0.5,0.6],[1.0,0.35],[2.5,0.45],[3.0,0.95],[4.0,0.55],[6.0,0.5],[6.5,0.2],[7.0,0.8],[8.0,0.15],[9.0,0.45],
  [10.5,0.6],[11.5,0.1],[12.8,0.05],[13.5,-0.1],[14.5,0.2],[15.5,-0.2],[16.5,0.0],[17.5,-0.3],[18.5,-0.1],[19.5,0.2],
  [20.5,-0.4],[21.5,-0.1],[22.5,-0.6],[23,0.3],[23.5,-0.9],[24,-0.3],[24.3,-1.2],[24.6,0.1],[24.9,-0.7],[25.2,-1.5],
  [25.5,-0.4],[25.8,-1.0],[26.1,0.2],[26.4,-1.3],[26.7,-0.6],[27.0,-1.7],[27.3,-0.9],[27.6,-0.2],[27.9,-1.4],[28.2,-0.5],
  [28.5,-1.1],[26,-1.8],[27.5,-1.6],[28.3,-1.8],[25,-0.1],[26.8,0.4],[28,0.1],[24.5,-1.6],[25.6,-1.75],[27.8,-1.0],
  [28.4,-0.3],[22,-1.0],[21,0.5],[19,-0.3],
  [24.2,-0.8],[24.8,-1.3],[25.3,-0.9],[25.9,-1.5],[26.3,-0.9],[26.6,-1.1],[27.1,-1.3],[27.4,-0.4],[27.7,-1.25],[28.1,-1.5],
  [28.4,-0.7],[28.5,-1.6],[26.9,-0.25],[25.7,-0.6],[24.0,-1.0],
  [25.1,-1.1],[25.5,-1.35],[26.0,-0.75],[26.5,-1.55],[27.0,-0.5],[27.2,-1.15],[27.6,-0.7],[27.9,-1.75],[28.2,-1.25],[28.5,-0.85],
  [24.7,-0.5],[26.2,-1.0],[23.2,-0.4],[21.8,-0.7],[20.2,0.0],[17.8,0.35],[13.0,0.4],[10.0,0.2],[7.8,0.65],[5.0,0.4]
];
const tempNonGeo = [
  [5.19,4.0],[3.62,2.97],[7.56,3.02],[14.94,2.89],[22.3,2.98],[4.16,2.36],[7.34,2.13],[12.66,2.15],[3.94,2.06],[3.62,1.95],
  [3.54,1.83],[6.22,1.73],[6.4,1.62],[5.33,1.49],[4.66,1.47],[6.4,1.42],[7.65,1.25],[10.24,1.27],[12.04,1.47],[10.78,1.17],
  [12.04,1.22],[0,1.09],[2.42,1.13],[3.62,0.97],[6.08,0.93],[6.22,1.13],[4.52,0.76],[2.42,0.78],[7.34,0.72],[10.34,1.02],
  [11.14,0.83],[13.25,0.6],[11.9,0.41],[13.25,0.47],[15.03,0.45],[16.15,0.34],[16.82,0.38],[17.72,0.38],[18.62,0.52],[20.09,0.47],
  [20.09,1.02],[19.96,1.13],[23.99,1.66],[23.99,1.55],[24.2,1.42],[8.9,-0.15],[15.03,-0.15],[15.8,-1.65],[15.8,-1.79],[24.2,-1.5],
  [24.6,-1.58],[24.9,-1.45],[25.2,-1.35],[25,-1.2],
  [1.5,0.9],[2.8,1.4],[4.5,1.1],[5.5,0.85],[8.5,1.05],[9.5,0.55],[11,0.75],[13.8,0.9],[14.5,0.25],[17,0.2],
  [18.2,0.15],[19,0.1],[19.5,0.3],[20.5,0.05],[21,0.2],[21.5,-0.1],[22,0.15],[22.5,-0.3],[23,0.0],[23.5,-0.2],
  [24,0.25],[24.5,-0.45],[25,0.1],[25.3,-0.6],[25.6,-0.15],[25.9,0.35],[26.2,-0.8],[26.5,-0.3],[26.8,0.05],[27.1,-1.0],
  [27.4,-0.5],[27.7,-0.2],[28,-0.7],[28.3,0.15],[28.5,-0.4],[26,-1.1],[27,-0.1],[27.5,0.4],[28.2,-1.2],[28.4,-0.9],
  [25.5,0.5],[26.3,0.8],[27.2,1.3],[27.8,0.9],[28.1,1.9],[24.8,0.7],[23.5,0.5],[22,-0.5],
  [24.3,-0.9],[25.8,-0.7],[26.6,-0.9],[27.3,-1.3],[27.9,-0.4],[28.5,-0.1],[28.2,0.5],[26.4,0.3],[25.1,-0.3],[27.6,-0.8]
];
const tempFitX = [0, 28.5];
const tempEpiFitY = [-1.47, 0.45];
const tempGeoFitY = [0.79, -0.59];
const tempNonGeoFitY = [1.53, -0.32];
const tempBandX = [0, 7, 14, 21, 28.5];
const tempEpiBandHi = [-1.1, -0.78, -0.38, 0.03, 0.55];
const tempEpiBandLo = [-1.93, -1.22, -0.67, -0.14, 0.35];
const tempGeoBandHi = [1.38, 0.85, 0.38, -0.07, -0.47];
const tempGeoBandLo = [0.17, 0.07, -0.15, -0.39, -0.71];
const tempNonGeoBandHi = [2.26, 1.55, 0.93, 0.38, -0.2];
const tempNonGeoBandLo = [0.85, 0.6, 0.31, -0.05, -0.44];

// ---------- (F) precipitation seasonality x temperature ----------
const precipFitX = [0.9, 2.25];
const precipPlusSD = [0.55, -1.25];
const precipMean = [0.45, -0.26];
const precipMinusSD = [0.32, 0.72];
const precipBandX = [0.9, 1.15, 1.4, 1.65, 1.9, 2.25];
const precipPlusHi = [1.29, 0.75, 0.33, -0.1, -0.4, -0.65];
const precipPlusLo = [-0.19, -0.31, -0.57, -0.81, -1.16, -1.91];
const precipMeanHi = [0.98, 0.72, 0.47, 0.3, 0.2, 0.08];
const precipMeanLo = [-0.15, -0.08, -0.08, -0.2, -0.4, -0.72];
const precipMinusHi = [0.85, 0.82, 0.85, 0.93, 1.1, 1.39];
const precipMinusLo = [-0.2, 0.03, 0.18, 0.26, 0.28, 0.2];

// ---------- drawing ----------
const FONT = "'Liberation Sans', Arial, Helvetica, sans-serif";
const INK = '#2c4760';
const GRID = '#e5e5e5';

const EPI = { pt: 'rgba(127,208,189,0.92)', band: 'rgba(110,200,178,0.30)', line: '#3e9f88' };
const GEO = { pt: 'rgba(247,122,104,0.92)', band: 'rgba(240,120,100,0.28)', line: '#e0452f' };
const NON = { pt: 'rgba(180,172,220,0.92)', band: 'rgba(160,148,228,0.26)', line: '#7b6fd6' };

const COLS = [{ l: 100, r: 335 }, { l: 367, r: 601 }, { l: 636, r: 871 }];
const ROWS = [{ t: 32, b: 530 }, { t: 641, b: 1137 }];
const Y_MIN = -2.28, Y_MAX = 4.28;

const toPts = arr => arr.map(([x, y]) => ({ x, y }));
const zipPts = (xs, ys) => xs.map((x, i) => ({ x, y: ys[i] }));

function scatterSet(arr, color) {
  return { type: 'scatter', data: toPts(arr), backgroundColor: color, borderWidth: 0,
           pointRadius: 3.8, pointHoverRadius: 3.8, order: 3 };
}
function bandSets(xs, hi, lo, color) {
  return [
    { type: 'line', data: zipPts(xs, hi), borderColor: 'rgba(0,0,0,0)', borderWidth: 0, pointRadius: 0,
      fill: '+1', backgroundColor: color, cubicInterpolationMode: 'monotone', order: 2 },
    { type: 'line', data: zipPts(xs, lo), borderColor: 'rgba(0,0,0,0)', borderWidth: 0, pointRadius: 0,
      fill: false, cubicInterpolationMode: 'monotone', order: 2 }
  ];
}
function fitSet(xs, ys, color, dash) {
  return { type: 'line', data: zipPts(xs, ys), borderColor: color, borderWidth: 4, pointRadius: 0,
           fill: false, borderDash: dash || [], borderCapStyle: 'butt', order: 1 };
}

const panelBg = {
  id: 'panelBg',
  beforeDraw(chart) {
    const { ctx, chartArea: a } = chart;
    ctx.save();
    ctx.fillStyle = '#fcfcfc';
    ctx.fillRect(a.left, a.top, a.right - a.left, a.bottom - a.top);
    ctx.restore();
  }
};

function panel({ col, row, xMin, xMax, xTicks, xLabels, showY, datasets }) {
  const c = COLS[col], r = ROWS[row];
  const padL = 70, padT = 30, padR = 25, axisH = 50;
  const yW = showY ? 70 : 0;
  const canvas = document.createElement('canvas');
  canvas.width = (c.r - c.l) + padL + padR;
  canvas.height = (r.b - r.t) + padT + axisH;
  canvas.style.left = (c.l - padL) + 'px';
  canvas.style.top = (r.t - padT) + 'px';
  document.getElementById('plots').appendChild(canvas);

  const tickFont = { family: FONT, size: 28 };
  new Chart(canvas, {
    type: 'scatter',
    data: { datasets },
    plugins: [panelBg],
    options: {
      responsive: false,
      animation: false,
      events: [],
      layout: { padding: { left: padL - yW, top: padT, right: padR, bottom: 0 } },
      plugins: { legend: { display: false }, tooltip: { enabled: false } },
      scales: {
        x: {
          type: 'linear', min: xMin, max: xMax,
          afterBuildTicks: s => { s.ticks = xTicks.map(v => ({ value: v })); },
          afterFit: s => { s.height = axisH; },
          ticks: { color: INK, font: tickFont, padding: row === 0 ? 4 : 8, maxRotation: 0, minRotation: 0,
                   autoSkip: false, callback: (v, i) => xLabels[i] },
          grid: { color: GRID, lineWidth: 3, drawTicks: false },
          border: { display: false, dash: [20, 9] }
        },
        y: {
          type: 'linear', min: Y_MIN, max: Y_MAX,
          afterBuildTicks: s => { s.ticks = orchidTicks.map(v => ({ value: v })); },
          afterFit: s => { s.width = yW; },
          ticks: { display: showY, color: INK, font: tickFont, padding: 10, autoSkip: false,
                   callback: (v, i) => orchidTickLabels[i] },
          grid: { color: GRID, lineWidth: 3, drawTicks: false },
          border: { display: false, dash: [20, 9] }
        }
      }
    }
  });
}

// (A)
panel({ col: 0, row: 0, xMin: 0.04, xMax: 6.18, xTicks: areaTicks, xLabels: areaTickLabels, showY: true,
  datasets: [
    scatterSet(areaNonGeo, NON.pt),
    ...bandSets(areaBandX, areaBandHi, areaBandLo, NON.band),
    fitSet(areaFitX, areaFitY, NON.line)
  ] });

// (B)
panel({ col: 1, row: 0, xMin: 15.54, xMax: 95.77, xTicks: cloudCovTicks, xLabels: cloudCovTickLabels, showY: false,
  datasets: [
    scatterSet(cloudCovEpi, EPI.pt),
    ...bandSets(cloudCovBandX, cloudCovBandHi, cloudCovBandLo, EPI.band),
    fitSet(cloudCovFitX, cloudCovFitY, EPI.line)
  ] });

// (C)
panel({ col: 2, row: 0, xMin: -0.0136, xMax: 0.783, xTicks: cloudSeasTicks, xLabels: cloudSeasTickLabels, showY: false,
  datasets: [
    scatterSet(cloudSeasGeo, GEO.pt),
    ...bandSets(cloudSeasBandX, cloudSeasBandHi, cloudSeasBandLo, GEO.band),
    fitSet(cloudSeasFitX, cloudSeasFitY, GEO.line)
  ] });

// (D)
panel({ col: 0, row: 1, xMin: -0.063, xMax: 2.063, xTicks: forestTicks, xLabels: forestTickLabels, showY: true,
  datasets: [
    scatterSet(forestEpi, EPI.pt),
    scatterSet(forestGeo, GEO.pt),
    ...bandSets(forestBandX, forestEpiBandHi, forestEpiBandLo, EPI.band),
    ...bandSets(forestBandX, forestGeoBandHi, forestGeoBandLo, GEO.band),
    fitSet(forestFitX, forestEpiFitY, EPI.line),
    fitSet(forestFitX, forestGeoFitY, GEO.line)
  ] });

// (E)
panel({ col: 1, row: 1, xMin: -2.15, xMax: 29.26, xTicks: tempTicks, xLabels: tempTickLabels, showY: false,
  datasets: [
    scatterSet(tempEpi, EPI.pt),
    scatterSet(tempGeo, GEO.pt),
    scatterSet(tempNonGeo, NON.pt),
    ...bandSets(tempBandX, tempNonGeoBandHi, tempNonGeoBandLo, NON.band),
    ...bandSets(tempBandX, tempGeoBandHi, tempGeoBandLo, GEO.band),
    ...bandSets(tempBandX, tempEpiBandHi, tempEpiBandLo, EPI.band),
    fitSet(tempFitX, tempEpiFitY, EPI.line),
    fitSet(tempFitX, tempGeoFitY, GEO.line),
    fitSet(tempFitX, tempNonGeoFitY, NON.line)
  ] });

// (F)
panel({ col: 2, row: 1, xMin: 0.832, xMax: 2.324, xTicks: precipTicks, xLabels: precipTickLabels, showY: false,
  datasets: [
    ...bandSets(precipBandX, precipMinusHi, precipMinusLo, 'rgba(190,175,250,0.35)'),
    ...bandSets(precipBandX, precipMeanHi, precipMeanLo, 'rgba(140,110,215,0.28)'),
    ...bandSets(precipBandX, precipPlusHi, precipPlusLo, 'rgba(100,110,175,0.32)'),
    fitSet(precipFitX, precipPlusSD, '#1c2378'),
    fitSet(precipFitX, precipMean, '#6a3dd1', [32, 13]),
    fitSet(precipFitX, precipMinusSD, '#9c8cf3', [8, 24])
  ] });
</script>
</body>
</html>
